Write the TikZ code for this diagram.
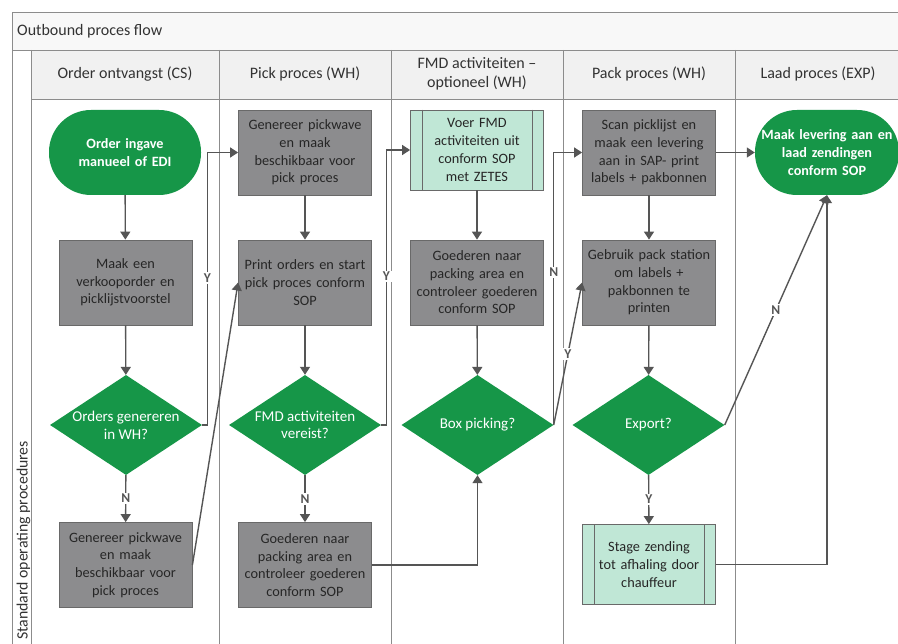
\documentclass[tikz,border=0pt]{standalone}
\usepackage{fontspec}
\setmainfont{Carlito}
\usetikzlibrary{shapes.geometric,calc,arrows.meta}
\definecolor{fgreen}{RGB}{22,150,72}
\definecolor{pgray}{RGB}{140,140,142}
\definecolor{pborder}{RGB}{105,105,105}
\definecolor{mint}{RGB}{192,231,214}
\definecolor{lgray}{RGB}{85,85,85}
\definecolor{framec}{RGB}{140,140,140}
\definecolor{hdr}{RGB}{241,241,241}
\definecolor{titlec}{RGB}{248,248,248}
\begin{document}
\begin{tikzpicture}[x=1pt,y=-1pt,
 proc/.style={rectangle, draw=pborder, fill=pgray, line width=0.8pt, minimum width=133pt, minimum height=85pt, text width=131pt, align=center, font=\fontsize{14.3}{17.7}\selectfont, text=black!85, inner sep=0pt},
 subp/.style={proc, fill=mint, minimum height=80pt, text width=108pt},
 term/.style={rectangle, rounded corners=42pt, fill=fgreen, minimum width=152pt, minimum height=85pt, text width=144pt, align=center, text=white, font=\bfseries\fontsize{14.2}{17.7}\selectfont, inner sep=0pt},
 dec/.style={diamond, fill=fgreen, minimum width=152pt, minimum height=100pt, inner sep=0pt},
 dtxt/.style={text=white, align=center, font=\fontsize{15}{17.7}\selectfont, inner sep=0pt},
 arr/.style={draw=lgray, line width=1.4pt, -{Triangle[length=8pt,width=10pt]}},
 lbl/.style={fill=white, text=lgray, font=\bfseries\fontsize{13.5}{13.5}\selectfont, inner sep=1.5pt},
 hd/.style={font=\fontsize{16}{18.5}\selectfont, text=black!80, align=center},
 fr/.style={draw=framec, line width=0.8pt}]
\useasboundingbox (0,0) rectangle (898,644);
\fill[white] (0,0) rectangle (898,644);
% frame
\fill[titlec] (12,12) rectangle (898,50);
\fill[hdr] (31,50) rectangle (898,99);
\draw[fr] (898,12) -- (12,12) -- (12,644);
\draw[fr] (12,50) -- (898,50);
\draw[fr] (31,99) -- (898,99);
\foreach \xx in {31,219,391,563,735} \draw[fr] (\xx,50) -- (\xx,644);
\node[anchor=west, font=\fontsize{16}{18.5}\selectfont, text=black!80, inner sep=0pt] (title) at (17,31) {Outbound proces flow};
\node[hd] (h1) at (125,74) {Order ontvangst (CS)};
\node[hd] (h2) at (305,74) {Pick proces (WH)};
\node[hd] (h3) at (477,74) {FMD activiteiten –\\optioneel (WH)};
\node[hd] (h4) at (649,74) {Pack proces (WH)};
\node[hd] (h5) at (818,74) {Laad proces (EXP)};
\node[rotate=90, anchor=west, font=\fontsize{15.8}{17}\selectfont, text=black!80, inner sep=0pt] (lane) at (23.5,640) {Standard operating procedures};
% column 1
\node[term] (t1) at (125,152.5) {Order ingave\\manueel of EDI};
\node[proc] (p1) at (125.5,282.5) {Maak een\\verkooporder en\\picklijstvoorstel};
\node[dec, label={[dtxt]center:{Orders genereren\\in WH?}}] (d1) at (126,425) {};
\node[proc] (g1) at (125.5,565) {Genereer pickwave\\en maak\\beschikbaar voor\\pick proces};
% column 2
\node[proc] (g2) at (305,152.5) {Genereer pickwave\\en maak\\beschikbaar voor\\pick proces};
\node[proc] (p2) at (305,282.5) {Print orders en start\\pick proces conform\\SOP};
\node[dec, label={[dtxt]center:{FMD activiteiten\\vereist?}}] (d2) at (305,425) {};
\node[proc] (q2) at (305,565) {Goederen naar\\packing area en\\controleer goederen\\conform SOP};
% column 3
\node[subp] (v3) at (477,150) {Voer FMD\\activiteiten uit\\conform SOP\\met ZETES};
\draw[pborder, line width=0.8pt] ($(v3.north west)+(12,0)$) -- ($(v3.south west)+(12,0)$);
\draw[pborder, line width=0.8pt] ($(v3.north east)+(-12,0)$) -- ($(v3.south east)+(-12,0)$);
\node[proc] (q3) at (477,282.5) {Goederen naar\\packing area en\\controleer goederen\\conform SOP};
\node[dec, label={[dtxt]center:{Box picking?}}] (d3) at (477.5,425) {};
% column 4
\node[proc] (s4) at (649,152.5) {Scan picklijst en\\maak een levering\\aan in SAP- print\\labels + pakbonnen};
\node[proc] (p4) at (649,282.5) {Gebruik pack station\\om labels +\\pakbonnen te\\printen};
\node[dec, label={[dtxt]center:{Export?}}] (d4) at (648.5,425) {};
\node[subp] (st) at (649,564.5) {Stage zending\\tot afhaling door\\chauffeur};
\draw[pborder, line width=0.8pt] ($(st.north west)+(12,0)$) -- ($(st.south west)+(12,0)$);
\draw[pborder, line width=0.8pt] ($(st.north east)+(-12,0)$) -- ($(st.south east)+(-12,0)$);
% column 5
\node[term, minimum width=144pt, text width=142pt] (t5) at (827,152.5) {Maak levering aan en\\laad zendingen\\conform SOP};
% bend coordinates
\coordinate (b1) at (207.5,425);
\coordinate (b2) at (386.5,425);
% connectors
\draw[arr] (t1) -- (p1);
\draw[arr] (p1) -- (d1);
\draw[arr] (d1) -- node[lbl]{N} (g1);
\draw[arr] (d1.east) -- (b1) |- node[lbl, pos=0.27]{Y} (g2.west);
\draw[arr] (g1.east) -- (p2.west);
\draw[arr] (g2) -- (p2);
\draw[arr] (p2) -- (d2);
\draw[arr] (d2) -- node[lbl]{N} (q2);
\draw[arr] (d2.east) -- (b2) |- node[lbl, pos=0.27]{Y} (v3.west);
\draw[arr] (q2.east) -| (d3.south);
\draw[arr] (v3) -- (q3);
\draw[arr] (q3) -- (d3);
\draw[arr] (d3.east) |- node[lbl, pos=0.28]{N} (s4.west);
\draw[arr] (d3.east) -- node[lbl, pos=0.5]{Y} (p4.west);
\draw[arr] (s4) -- (p4);
\draw[arr] (p4) -- (d4);
\draw[arr] (d4) -- node[lbl]{Y} (st);
\draw[arr] (s4.east) -- (t5.west);
\draw[arr] (d4.east) -- node[lbl, pos=0.5]{N} (t5.south);
\draw[arr] (st.east) -| (t5.south);
\end{tikzpicture}
\end{document}
